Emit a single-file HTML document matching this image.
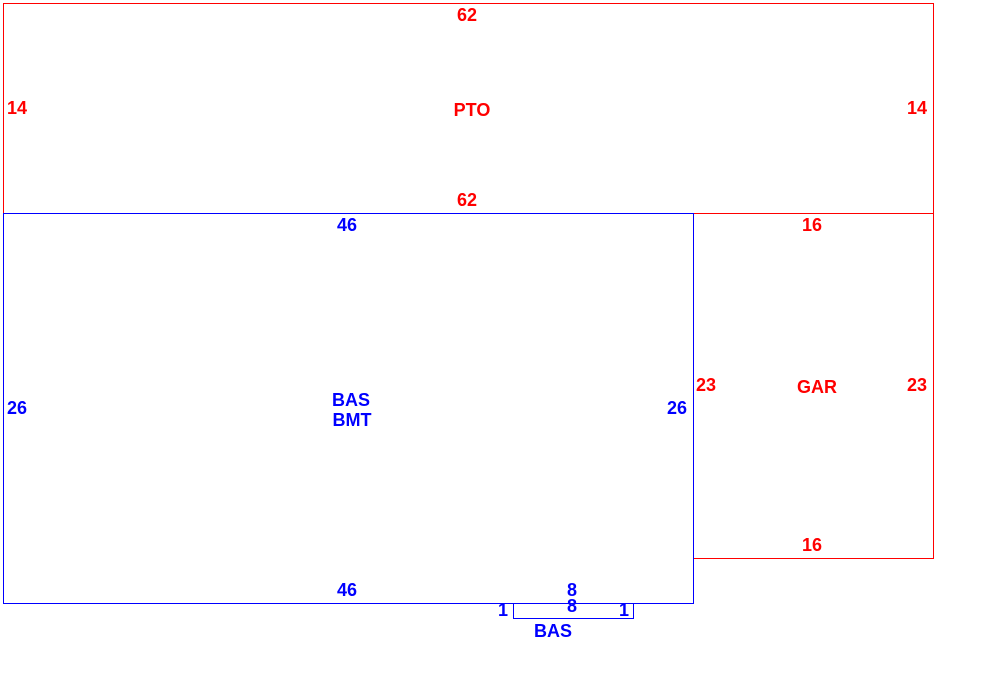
<!DOCTYPE html>
<html><head><style>body{margin:0;background:#fff;position:relative;width:990px;height:683px;overflow:hidden}
.r{position:absolute;box-sizing:border-box;border:1px solid}
.t{position:absolute;font-family:"Liberation Sans",Arial,sans-serif;font-weight:bold;font-size:18px;line-height:20px;width:80px;margin-left:-40px;margin-top:-10px;text-align:center}
.R{color:#f00}.B{color:#00f}</style></head>
<body>
<div class="r" style="left:3px;top:3px;width:931px;height:211px;border-color:#f00"></div>
<div class="r" style="left:693px;top:213px;width:241px;height:346px;border-color:#f00"></div>
<div class="r" style="left:3px;top:213px;width:691px;height:391px;border-color:#00f"></div>
<div class="r" style="left:513px;top:603px;width:121px;height:16px;border-color:#00f"></div>
<div class="t R" style="left:467px;top:15px">62</div>
<div class="t R" style="left:472px;top:110px">PTO</div>
<div class="t R" style="left:17px;top:108px">14</div>
<div class="t R" style="left:917px;top:108px">14</div>
<div class="t R" style="left:467px;top:200px">62</div>
<div class="t R" style="left:812px;top:225px">16</div>
<div class="t R" style="left:706px;top:385px">23</div>
<div class="t R" style="left:817px;top:387px">GAR</div>
<div class="t R" style="left:917px;top:385px">23</div>
<div class="t R" style="left:812px;top:545px">16</div>
<div class="t B" style="left:347px;top:225px">46</div>
<div class="t B" style="left:17px;top:408px">26</div>
<div class="t B" style="left:677px;top:408px">26</div>
<div class="t B" style="left:351px;top:400px">BAS</div>
<div class="t B" style="left:352px;top:420px">BMT</div>
<div class="t B" style="left:347px;top:590px">46</div>
<div class="t B" style="left:572px;top:590px">8</div>
<div class="t B" style="left:572px;top:606px">8</div>
<div class="t B" style="left:503px;top:610px">1</div>
<div class="t B" style="left:624px;top:610px">1</div>
<div class="t B" style="left:553px;top:631px">BAS</div>
</body></html>
